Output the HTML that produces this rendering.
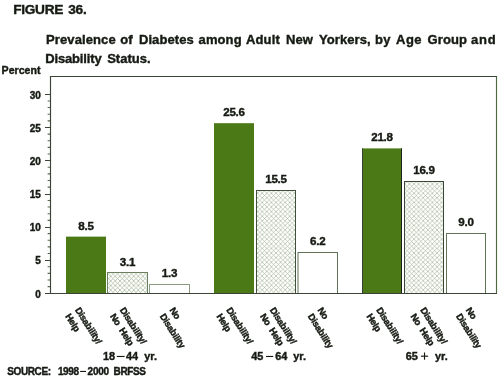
<!DOCTYPE html>
<html><head><meta charset="utf-8">
<style>
html,body{margin:0;padding:0;background:#fff;width:500px;height:376px;overflow:hidden}
svg{display:block;will-change:transform}
text{font-family:"Liberation Sans",sans-serif;font-weight:bold;fill:#151a12;stroke:#151a12;stroke-width:0.4px}
.val{font-size:11.6px;letter-spacing:-0.25px}
.yl{font-size:10px}
.cat{font-size:9.3px;stroke:#151a12;stroke-width:0.4px;letter-spacing:-0.25px;word-spacing:2.5px}
.grp{font-size:10.9px}
</style></head><body>
<svg width="500" height="376" viewBox="0 0 500 376">
<defs>
<pattern id="hatch" patternUnits="userSpaceOnUse" width="4.6" height="4.6">
<rect width="4.6" height="4.6" fill="#fff"/>
<path d="M0,0 L4.6,4.6 M4.6,0 L0,4.6" stroke="#a3b496" stroke-width="0.65"/>
</pattern>
<pattern id="hatch1" patternUnits="userSpaceOnUse" width="4.6" height="4.6" x="0.3" y="0.3">
<rect width="4.6" height="4.6" fill="#fff"/>
<path d="M0,0 L4.6,4.6 M4.6,0 L0,4.6" stroke="#a0b293" stroke-width="0.7"/>
</pattern>
</defs>
<text y="13.9" style="font-size:13.7px;letter-spacing:-0.3px"><tspan x="13.20">FIGURE</tspan><tspan x="68.30">36.</tspan></text>
<text y="44" style="font-size:13px;letter-spacing:0.1px"><tspan x="46.10">Prevalence</tspan><tspan x="120.20">of</tspan><tspan x="138.90">Diabetes</tspan><tspan x="198.60">among</tspan><tspan x="246.10">Adult</tspan><tspan x="285.90">New</tspan><tspan x="318.90">Yorkers,</tspan><tspan x="375.10">by</tspan><tspan x="396.10" style="letter-spacing:0.4px">Age</tspan><tspan x="427.60">Group</tspan><tspan x="471.10" style="letter-spacing:0.8px">and</tspan></text>
<text y="63" style="font-size:13px"><tspan x="45.2" style="letter-spacing:-0.15px">Disability</tspan><tspan x="107.2">Status.</tspan></text>
<text x="1.6" y="74" style="font-size:10.6px">Percent</text>
<text x="40.8" y="297.50" text-anchor="end" class="yl">0</text>
<text x="40.8" y="264.33" text-anchor="end" class="yl">5</text>
<text x="40.8" y="231.17" text-anchor="end" class="yl">10</text>
<text x="40.8" y="198.00" text-anchor="end" class="yl">15</text>
<text x="40.8" y="164.83" text-anchor="end" class="yl">20</text>
<text x="40.8" y="131.67" text-anchor="end" class="yl">25</text>
<text x="40.8" y="98.50" text-anchor="end" class="yl">30</text>
<path d="M45,293.50H50.5M45,260.50H50.5M45,227.50H50.5M45,194.50H50.5M45,160.50H50.5M45,127.50H50.5M45,94.50H50.5" stroke="#3a4536" stroke-width="1.1" fill="none"/>
<path d="M47.6,286.67H50.5M47.6,280.03H50.5M47.6,273.40H50.5M47.6,266.77H50.5M47.6,253.50H50.5M47.6,246.87H50.5M47.6,240.23H50.5M47.6,233.60H50.5M47.6,220.33H50.5M47.6,213.70H50.5M47.6,207.07H50.5M47.6,200.43H50.5M47.6,187.17H50.5M47.6,180.53H50.5M47.6,173.90H50.5M47.6,167.27H50.5M47.6,154.00H50.5M47.6,147.37H50.5M47.6,140.73H50.5M47.6,134.10H50.5M47.6,120.83H50.5M47.6,114.20H50.5M47.6,107.57H50.5M47.6,100.93H50.5" stroke="#5b6b52" stroke-width="1.1" fill="none"/>
<rect x="66" y="236.62" width="40" height="56.38" fill="#4b7915"/>
<rect x="107.5" y="272.5" width="40" height="21.00" fill="url(#hatch1)" stroke="#6a8060" stroke-width="1"/>
<rect x="149.5" y="284.5" width="40" height="9.00" fill="#fff" stroke="#8a9b7f" stroke-width="1"/>
<rect x="214" y="123.19" width="40" height="169.81" fill="#4b7915"/>
<rect x="256.5" y="190.5" width="39" height="103.00" fill="url(#hatch)" stroke="#404e3a" stroke-width="1"/>
<rect x="298.0" y="252.5" width="39.5" height="41.00" fill="#fff" stroke="#5f7454" stroke-width="1"/>
<rect x="362" y="148.39" width="40" height="144.61" fill="#4b7915"/>
<rect x="404.5" y="181.5" width="39" height="112.00" fill="url(#hatch)" stroke="#3a4636" stroke-width="1"/>
<rect x="446.5" y="233.5" width="39" height="60.00" fill="#fff" stroke="#5f7454" stroke-width="1"/>
<rect x="362" y="148.4" width="1" height="144.6" fill="#3a3f36"/>
<rect x="401" y="148.4" width="1" height="144.6" fill="#1c1f1a"/>
<path d="M496.5,76.5 L496.5,293.5" stroke="#50683f" stroke-width="1.15" fill="none"/>
<path d="M50.5,76.5 L497,76.5 M45,293.5 L497,293.5 M50.5,76 L50.5,294" stroke="#3a4536" stroke-width="1.15" fill="none"/>
<text x="86.00" y="229.72" text-anchor="middle" class="val">8.5</text>
<text x="127.50" y="265.54" text-anchor="middle" class="val">3.1</text>
<text x="169.50" y="277.48" text-anchor="middle" class="val">1.3</text>
<text x="234.00" y="116.29" text-anchor="middle" class="val">25.6</text>
<text x="276.00" y="183.28" text-anchor="middle" class="val">15.5</text>
<text x="317.75" y="244.97" text-anchor="middle" class="val">6.2</text>
<text x="382.00" y="141.49" text-anchor="middle" class="val">21.8</text>
<text x="424.00" y="174.00" text-anchor="middle" class="val">16.9</text>
<text x="466.00" y="226.40" text-anchor="middle" class="val">9.0</text>
<text class="cat" transform="translate(74.70,309.90) rotate(57.5)"><tspan x="0" y="0">Disability/</tspan><tspan x="0" y="11.6">Help</tspan></text>
<text class="cat" transform="translate(119.50,309.90) rotate(57.5)"><tspan x="0" y="0">Disability/</tspan><tspan x="0" y="11.6">No Help</tspan></text>
<text class="cat" transform="translate(169.20,309.90) rotate(57.5)"><tspan x="0" y="0">No</tspan><tspan x="0" y="11.6">Disability</tspan></text>
<text class="cat" transform="translate(226.00,309.90) rotate(57.5)"><tspan x="0" y="0">Disability/</tspan><tspan x="0" y="11.6">Help</tspan></text>
<text class="cat" transform="translate(269.50,309.90) rotate(57.5)"><tspan x="0" y="0">Disability/</tspan><tspan x="0" y="11.6">No Help</tspan></text>
<text class="cat" transform="translate(317.20,309.90) rotate(57.5)"><tspan x="0" y="0">No</tspan><tspan x="0" y="11.6">Disability</tspan></text>
<text class="cat" transform="translate(376.00,309.90) rotate(57.5)"><tspan x="0" y="0">Disability/</tspan><tspan x="0" y="11.6">Help</tspan></text>
<text class="cat" transform="translate(420.10,309.90) rotate(57.5)"><tspan x="0" y="0">Disability/</tspan><tspan x="0" y="11.6">No Help</tspan></text>
<text class="cat" transform="translate(465.50,309.90) rotate(57.5)"><tspan x="0" y="0">No</tspan><tspan x="0" y="11.6">Disability</tspan></text>
<text class="grp" x="103.00" y="360">18</text>
<text class="grp" x="126.00" y="360">44</text>
<text class="grp" x="144.20" y="360">yr.</text>
<rect x="116.8" y="355.9" width="7.80" height="1.15" fill="#151a12"/>
<text class="grp" x="251.20" y="360">45</text>
<text class="grp" x="275.20" y="360">64</text>
<text class="grp" x="293.20" y="360">yr.</text>
<rect x="266.0" y="355.9" width="7.20" height="1.15" fill="#151a12"/>
<text class="grp" x="405.80" y="360">65</text>
<text class="grp" x="435.00" y="360">yr.</text>
<rect x="420.9" y="355.6" width="7.20" height="1.15" fill="#151a12"/>
<rect x="423.95" y="352.5" width="1.15" height="7.2" fill="#151a12"/>
<text y="374.8" style="font-size:10px;letter-spacing:-0.4px"><tspan x="7.3">SOURCE:</tspan><tspan x="57.9" style="letter-spacing:-0.4px">1998</tspan><tspan x="87.6" style="letter-spacing:-0.25px">2000</tspan><tspan x="113.6">BRFSS</tspan></text>
<rect x="80.1" y="370.9" width="5.9" height="1.1" fill="#151a12"/>
</svg>
</body></html>
